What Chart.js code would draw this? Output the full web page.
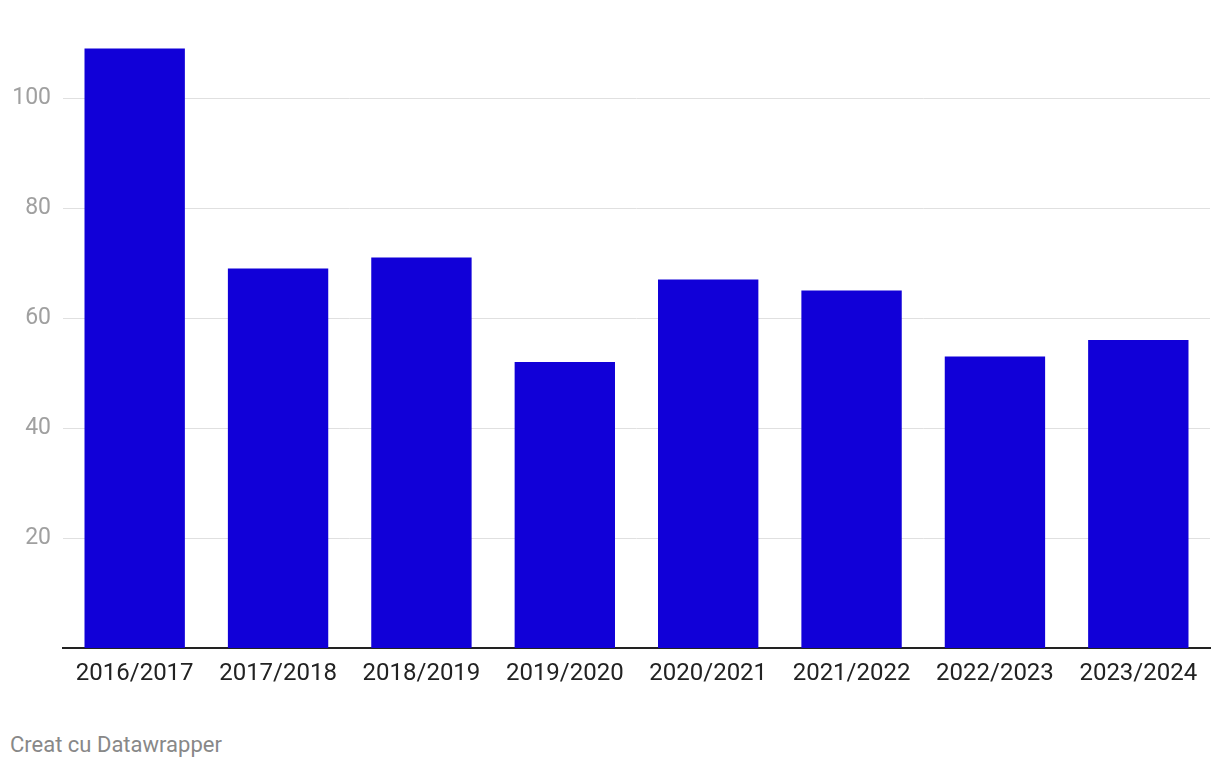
<!DOCTYPE html>
<html>
<head>
<meta charset="utf-8">
<script src="https://cdn.jsdelivr.net/npm/chart.js@4"></script>
<style>
  body { margin: 0; background: #fff; font-family: Roboto, sans-serif; }
  #wrap { position: relative; width: 1220px; height: 700px; }
  #nota { position: absolute; left: 10px; top: 732px; font-size: 22px; color: #888; }
</style>
</head>
<body>
<div id="wrap"><canvas id="grafica"></canvas></div>
<div id="nota">Creat cu Datawrapper</div>
<script>
const anii = ['2016/2017', '2017/2018', '2018/2019', '2019/2020', '2020/2021', '2021/2022', '2022/2023', '2023/2024'];
const valori = [109, 69, 71, 52, 67, 65, 53, 56];
const gradatii = [20, 40, 60, 80, 100];

const ctx = document.getElementById('grafica').getContext('2d');
new Chart(ctx, {
  type: 'bar',
  data: {
    labels: anii,
    datasets: [{
      data: valori,
      backgroundColor: '#1100d8',
      barPercentage: 0.7,
      categoryPercentage: 1
    }]
  },
  options: {
    responsive: true,
    maintainAspectRatio: false,
    animation: false,
    layout: { padding: { top: 43, right: 10, left: 1, bottom: 0 } },
    plugins: { legend: { display: false }, tooltip: { enabled: false } },
    scales: {
      x: {
        grid: { display: false, drawTicks: false },
        border: { color: '#222', width: 2 },
        ticks: { color: '#222', font: { family: 'Roboto', size: 24 }, padding: 12, maxRotation: 0 },
        afterFit: s => { s.height = 52; }
      },
      y: {
        min: 0,
        max: 110,
        afterFit: s => { s.width = 62; },
        afterBuildTicks: s => { s.ticks = gradatii.map(v => ({ value: v })); },
        border: { display: false },
        grid: { color: '#e0e0e0', drawTicks: false },
        ticks: { color: '#a0a0a0', font: { family: 'Roboto', size: 23 }, padding: 12 }
      }
    }
  }
});
</script>
</body>
</html>
